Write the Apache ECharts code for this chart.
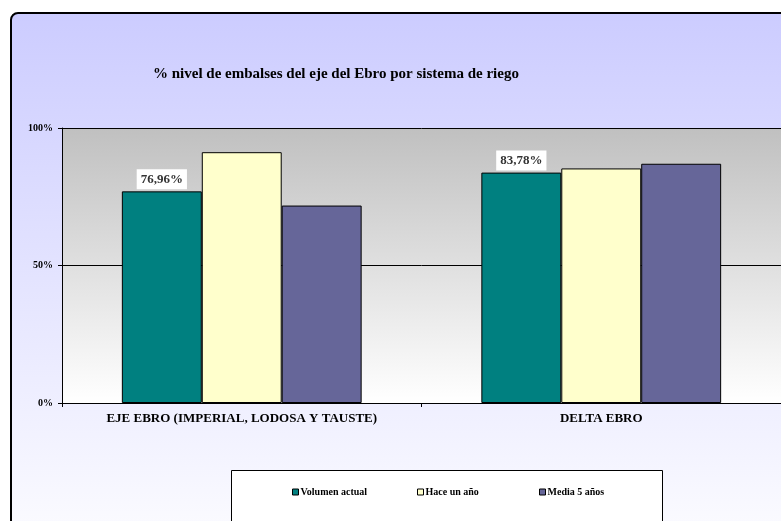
<!DOCTYPE html>
<html><head><meta charset="utf-8">
<script src="https://cdn.jsdelivr.net/npm/echarts@6/dist/echarts.min.js"></script>
<style>html,body{margin:0;padding:0;background:#fff}#c{width:781px;height:521px}</style>
</head><body><div id="c"></div>
<script>
var categories = ['EJE EBRO (IMPERIAL, LODOSA Y TAUSTE)', 'DELTA EBRO'];
var volumenActual = [76.96, 83.78];
var haceUnAno = [91.2, 85.3];
var media5Anos = [71.8, 87.0];
var seriesNames = ['Volumen actual', 'Hace un año', 'Media 5 años'];
var yTicks = [0, 50, 100];

var FONT = '"Liberation Serif", "Times New Roman", serif';
var chart = echarts.init(document.getElementById('c'), null, {renderer: 'canvas'});
function legendFor(name, left) {
  return {
    data: [name], left: left, top: 487, itemWidth: 6, itemHeight: 6, itemGap: 0,
    icon: 'rect', selectedMode: false, padding: 0,
    textStyle: {fontFamily: FONT, fontWeight: 'bold', fontSize: 10, color: '#000', padding: [0, 0, 0, -3]},
    itemStyle: {borderColor: '#000', borderWidth: 1}
  };
}
var option = {
  animation: false,
  graphic: [
    {type: 'rect', z: -10, shape: {x: 11, y: 13, width: 900, height: 600, r: [7, 0, 0, 0]},
     style: {fill: new echarts.graphic.LinearGradient(0, 0, 0, 1, [
       {offset: 0, color: '#CCCCFF'}, {offset: 0.85, color: '#FAFAFF'}, {offset: 1, color: '#FAFAFF'}]),
       stroke: '#000', lineWidth: 2}},
    {type: 'rect', z: -5, shape: {x: 231.5, y: 470.5, width: 431, height: 80},
     style: {fill: '#fff', stroke: '#000', lineWidth: 1}},
    {type: 'text', left: 153, top: 67, style: {text: '% nivel de embalses del eje del Ebro por sistema de riego',
      font: 'bold 15px ' + FONT, fill: '#000'}}
  ],
  legend: [legendFor(seriesNames[0], 292), legendFor(seriesNames[1], 417), legendFor(seriesNames[2], 539)],
  grid: {left: 62, right: -3, top: 128, bottom: 118, show: true, borderWidth: 0,
    backgroundColor: new echarts.graphic.LinearGradient(0, 0, 0, 1, [
      {offset: 0, color: '#C0C0C0'}, {offset: 1, color: '#FFFFFF'}])},
  xAxis: {
    type: 'category', data: categories,
    axisLine: {lineStyle: {color: '#000', width: 1}},
    axisTick: {show: true, length: 4, lineStyle: {color: '#000'}},
    axisLabel: {fontFamily: FONT, fontWeight: 'bold', fontSize: 13, color: '#000', margin: 9}
  },
  yAxis: {
    type: 'value', min: 0, max: 100, interval: 50,
    axisLine: {show: true, lineStyle: {color: '#000'}},
    axisTick: {show: true, length: 4, lineStyle: {color: '#000'}},
    splitLine: {show: true, lineStyle: {color: '#000', width: 1}},
    axisLabel: {fontFamily: FONT, fontWeight: 'bold', fontSize: 10, color: '#000', margin: 9,
      formatter: function (v) { return yTicks.indexOf(v) >= 0 ? v + '%' : ''; }}
  },
  series: [
    {name: seriesNames[0], type: 'bar', data: volumenActual, barGap: '0%', barCategoryGap: '33.3%',
     itemStyle: {color: '#008080', borderColor: '#000', borderWidth: 1},
     label: {show: true, position: 'top', distance: 2, backgroundColor: '#fff', padding: [4, 4, 3, 4],
       fontFamily: FONT, fontWeight: 'bold', fontSize: 13, color: '#333',
       formatter: function (p) { return p.value.toFixed(2).replace('.', ',') + '%'; }}},
    {name: seriesNames[1], type: 'bar', data: haceUnAno,
     itemStyle: {color: '#FFFFCC', borderColor: '#000', borderWidth: 1}},
    {name: seriesNames[2], type: 'bar', data: media5Anos,
     itemStyle: {color: '#666699', borderColor: '#000', borderWidth: 1}}
  ]
};
chart.setOption(option);
</script></body></html>
